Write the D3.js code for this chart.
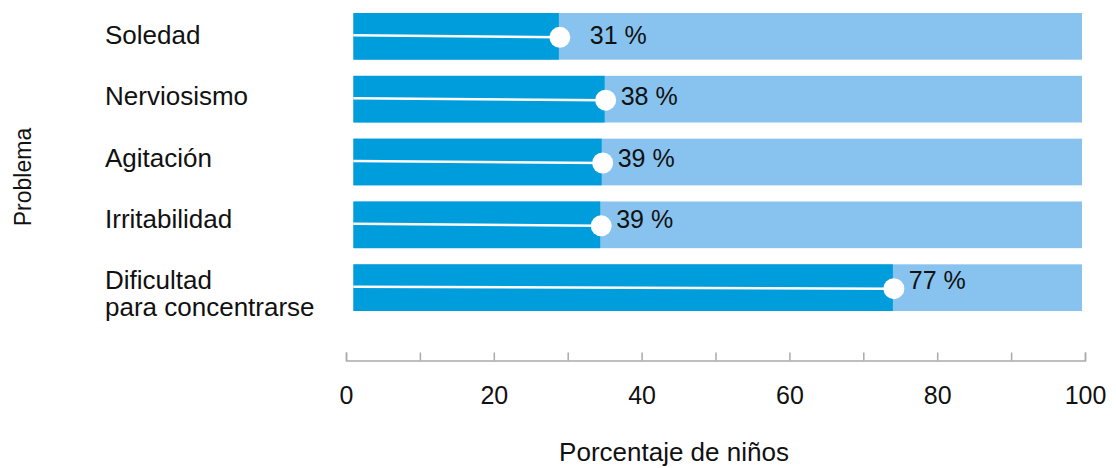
<!DOCTYPE html>
<html>
<head>
<meta charset="utf-8">
<script src="https://cdn.jsdelivr.net/npm/d3@7"></script>
<style>
  body { margin: 0; background: #fff; }
  svg text { font-family: "Liberation Sans", Arial, sans-serif; fill: #111; }
</style>
</head>
<body>
<div id="chart"></div>
<script>
// data
var categories = ["Soledad", "Nerviosismo", "Agitación", "Irritabilidad", "Dificultad\npara concentrarse"];
var barValues = [28.8, 35.0, 34.6, 34.4, 74.0];   // where the dark part ends, as drawn
var labelValues = [31, 38, 39, 39, 77];           // numbers printed next to the dot
var xTicks = [0, 10, 20, 30, 40, 50, 60, 70, 80, 90, 100];
var xTickLabels = ["0", "", "20", "", "40", "", "60", "", "80", "", "100"];

var width = 1116, height = 468;

var svg = d3.select("#chart").append("svg")
    .attr("width", width)
    .attr("height", height);

var x = d3.scaleLinear().domain([0, 100]).range([346, 1085]);

// bar rows
var y = d3.scaleBand()
    .domain(categories)
    .range([13, 311])
    .paddingInner(0.257)
    .paddingOuter(0);

// text rows (baselines) sit a little higher than the bars
var yText = d3.scalePoint()
    .domain(categories)
    .range([44, 289]);

var dark = "#009ddc", light = "#87c3ee";

var rows = svg.selectAll("g.row")
    .data(categories)
    .enter().append("g")
    .attr("class", "row");

// full background bar
rows.append("rect")
    .attr("x", x(1))
    .attr("width", x(99.6) - x(1))
    .attr("y", function(d) { return y(d); })
    .attr("height", y.bandwidth())
    .attr("fill", light);

// value bar
rows.append("rect")
    .attr("x", x(1))
    .attr("width", function(d, i) { return x(barValues[i]) - x(1); })
    .attr("y", function(d) { return y(d); })
    .attr("height", y.bandwidth())
    .attr("fill", dark);

// white line + dot
rows.append("line")
    .attr("x1", x(1))
    .attr("x2", function(d, i) { return x(barValues[i]); })
    .attr("y1", function(d) { return y(d) + y.bandwidth() / 2 - 1; })
    .attr("y2", function(d) { return y(d) + y.bandwidth() / 2 + 1; })
    .attr("stroke", "#fff")
    .attr("stroke-width", 2.5);

rows.append("circle")
    .attr("cx", function(d, i) { return x(barValues[i]) + 1; })
    .attr("cy", function(d) { return y(d) + y.bandwidth() / 2 + 1; })
    .attr("r", 10.5)
    .attr("fill", "#fff");

// value labels - the first one is level with its dot so it goes further right
rows.append("text")
    .attr("x", function(d, i) {
        return x(barValues[i]) + (i === 0 ? 31 : 16);
    })
    .attr("y", function(d) { return yText(d); })
    .style("font-size", "25px")
    .text(function(d, i) { return labelValues[i] + " %"; });

// category labels, one text per line
rows.each(function(d) {
    var g = d3.select(this);
    d.split("\n").forEach(function(p, k) {
        g.append("text")
            .attr("x", 105)
            .attr("y", yText(d) + k * 27)
            .style("font-size", "26px")
            .text(p);
    });
});

// x axis
var xAxis = d3.axisBottom(x)
    .tickValues(xTicks)
    .tickSizeInner(-8)
    .tickSizeOuter(-8)
    .tickPadding(26)
    .tickFormat(function(d, i) { return xTickLabels[i]; });

var gx = svg.append("g")
    .attr("transform", "translate(0,360.5)")
    .call(xAxis);

gx.select(".domain").attr("stroke", "#aaa").attr("stroke-width", 1.5);
gx.selectAll(".tick line").attr("stroke", "#aaa").attr("stroke-width", 1.5);
gx.selectAll(".tick text")
    .style("font-size", "25px")
    .style("font-family", "'Liberation Sans', Arial, sans-serif")
    .attr("fill", "#111");

// axis titles
svg.append("text")
    .attr("x", 674)
    .attr("y", 461)
    .attr("text-anchor", "middle")
    .style("font-size", "26px")
    .text("Porcentaje de niños");

svg.append("text")
    .attr("transform", "translate(31,177) rotate(-90)")
    .attr("text-anchor", "middle")
    .style("font-size", "23px")
    .text("Problema");
</script>
</body>
</html>
